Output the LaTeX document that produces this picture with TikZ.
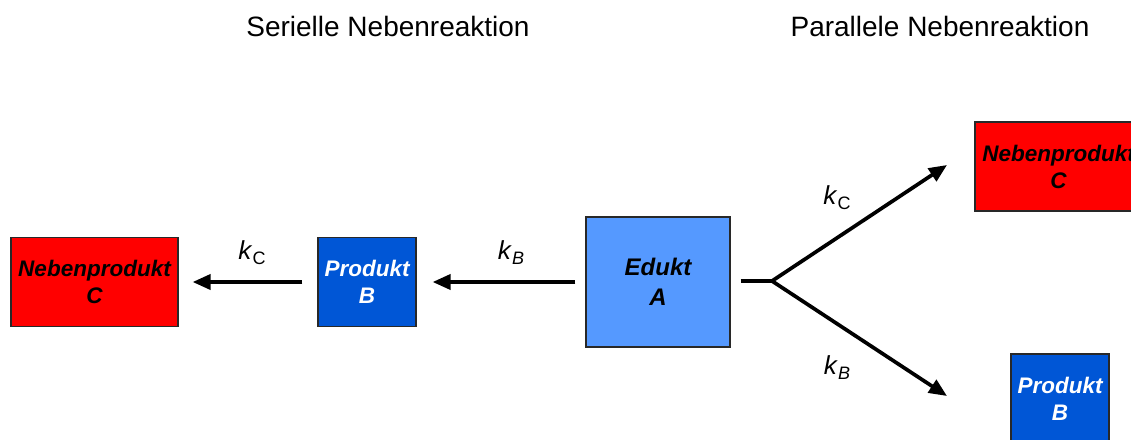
\documentclass[tikz,border=0pt]{standalone}
\usepackage{fontspec}
\setmainfont{Liberation Sans}
\usetikzlibrary{arrows.meta}
\definecolor{redbox}{RGB}{255,0,0}
\definecolor{bluebox}{RGB}{0,86,214}
\definecolor{lightbox}{RGB}{85,153,255}
\definecolor{boxborder}{RGB}{40,40,40}
\tikzset{
  titletext/.style={anchor=base,font=\fontsize{28}{30}\selectfont},
  boxbase/.style={draw=boxborder,line width=1.2pt,inner sep=0pt,align=center,
    font=\fontsize{22.5}{27}\selectfont\bfseries\itshape},
  nebenbox/.style={boxbase,fill=redbox,text=black,minimum width=167pt,minimum height=89pt},
  produktbox/.style={boxbase,fill=bluebox,text=white,minimum width=98pt,minimum height=89pt},
  eduktbox/.style={boxbase,fill=lightbox,text=black,minimum width=144pt,minimum height=130pt,
    font=\fontsize{24}{30}\selectfont\bfseries\itshape},
  reac/.style={line width=3.7pt,-{Triangle[length=18pt,width=15pt]}},
  plainline/.style={line width=3.7pt},
  klabel/.style={font=\fontsize{26}{30}\selectfont}
}
\newcommand{\ksub}[1]{\textit{k}\raisebox{-5pt}{\fontsize{18}{18}\selectfont #1}}
\begin{document}
\begin{tikzpicture}[x=1pt,y=-1pt]
\useasboundingbox (0,0) rectangle (1131,439);
\clip (0,0) rectangle (1131,439);
% titles
\node[titletext] (t1) at (388,36) {Serielle Nebenreaktion};
\node[titletext] (t2) at (940,36) {Parallele Nebenreaktion};
% serial
\node[nebenbox] (c1) at (94.5,282) {Nebenprodukt\\C};
\node[produktbox] (b1) at (367,282) {Produkt\\B};
\node[eduktbox] (a) at (658,282) {Edukt\\A};
\draw[reac,shorten <=10pt,shorten >=16pt] (a.west) -- (b1.east);
\draw[reac,shorten <=15pt,shorten >=14pt] (b1.west) -- (c1.east);
\node[klabel] (k1) at (252,253) {\ksub{C}};
\node[klabel] (k2) at (511,253) {\ksub{\textit{B}}};
% parallel
\node[nebenbox] (c2) at (1058.5,166.5) {Nebenprodukt\\C};
\node[produktbox] (b2) at (1060,398.5) {Produkt\\B};
\coordinate (br) at (772,281);
\coordinate (up) at (947,165);
\coordinate (dn) at (947,396);
\draw[plainline,shorten <=10pt] (a.east |- br) -- (br);
\draw[reac] (br) -- (up);
\draw[reac] (br) -- (dn);
\node[klabel] (k3) at (837,198) {\ksub{C}};
\node[klabel] (k4) at (837,368) {\ksub{\textit{B}}};
\end{tikzpicture}
\end{document}
